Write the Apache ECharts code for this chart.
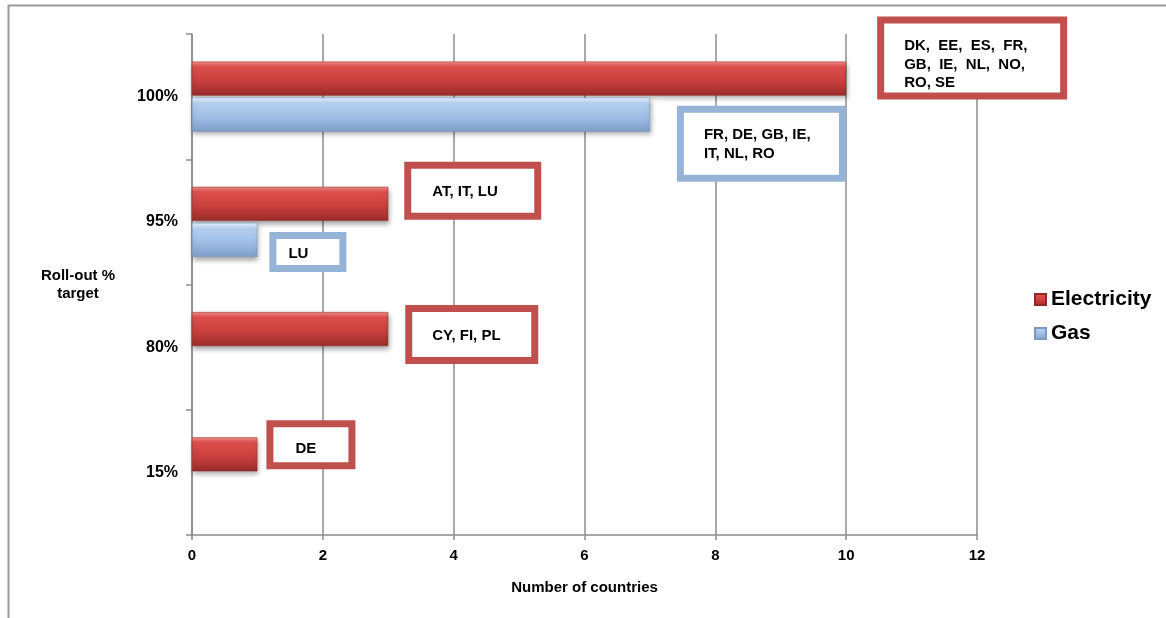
<!DOCTYPE html>
<html>
<head>
<meta charset="utf-8">
<script src="https://cdn.jsdelivr.net/npm/echarts@6/dist/echarts.min.js"></script>
<style>
html,body{margin:0;padding:0;background:#fff;}
#chart{width:1166px;height:618px;}
</style>
</head>
<body>
<div id="chart"></div>
<script>
// ---- data ----
const categories = ['15%', '80%', '95%', '100%'];
const electricity = [1, 3, 3, 10];
const gas = [null, null, 1, 7];
const electricityCountries = ['DE', 'CY, FI, PL', 'AT, IT, LU', 'DK,  EE,  ES,  FR,\nGB,  IE,  NL,  NO,\nRO, SE'];
const gasCountries = [null, null, 'LU', 'FR, DE, GB, IE,\nIT, NL, RO'];
const xTicks = [0, 2, 4, 6, 8, 10, 12];
const seriesNames = ['Electricity', 'Gas'];
const axisTitles = { y: 'Roll-out %\ntarget', x: 'Number of countries' };

// ---- annotation box layout (style only) ----
const FONT = 'Liberation Sans, Arial, sans-serif';
const elecBoxLayout = [
  { distance: 16, offset: [0, -27], padding: [12, 10, 4, 22], width: 43, lineHeight: 19 },
  { distance: 24, offset: [0, -17], padding: [14, 10, 12, 20], width: 89, lineHeight: 19 },
  { distance: 23, offset: [0, -35], padding: [13.5, 10, 11.5, 21], width: 92, lineHeight: 19 },
  { distance: 38, offset: [0, -55], padding: [13.5, 10, 0, 20], width: 146, lineHeight: 18.5 }
];
const gasBoxLayout = [
  null, null,
  { distance: 19, offset: [0, -1], padding: [5, 10, 2, 12], width: 41, lineHeight: 19 },
  { distance: 34, offset: [0, -2], padding: [12.5, 10, 11.5, 20], width: 125, lineHeight: 19 }
];

function makeData(values, texts, layouts, borderColor) {
  return values.map((v, i) => {
    const item = { value: v };
    if (texts[i] && layouts[i]) {
      const L = layouts[i];
      item.label = {
        show: true,
        position: 'right',
        distance: L.distance,
        offset: L.offset,
        formatter: texts[i],
        backgroundColor: '#fff',
        borderColor: borderColor,
        borderWidth: 7,
        padding: L.padding,
        width: L.width,
        align: 'left',
        verticalAlign: 'top',
        lineHeight: L.lineHeight,
        color: '#000',
        fontWeight: 'bold',
        fontSize: 15,
        fontFamily: FONT
      };
    }
    return item;
  });
}

const redGrad = new echarts.graphic.LinearGradient(0, 0, 0, 1, [
  { offset: 0, color: '#f58e8b' },
  { offset: 0.15, color: '#de504d' },
  { offset: 0.6, color: '#c63e3b' },
  { offset: 1, color: '#982c2a' }
]);
const blueGrad = new echarts.graphic.LinearGradient(0, 0, 0, 1, [
  { offset: 0, color: '#e4f6ff' },
  { offset: 0.18, color: '#b4cff0' },
  { offset: 0.6, color: '#9dbbe3' },
  { offset: 1, color: '#7f9ec8' }
]);

const chart = echarts.init(document.getElementById('chart'), null, { renderer: 'canvas' });
chart.setOption({
  animation: false,
  backgroundColor: '#fff',
  textStyle: { fontFamily: FONT },
  graphic: [{
    type: 'rect',
    shape: { x: 8.5, y: 5.5, width: 1300, height: 800 },
    style: { fill: 'none', stroke: '#9a9a9a', lineWidth: 2 },
    silent: true, z: -10
  }],
  grid: { left: 192, right: 189, top: 34, bottom: 83, containLabel: false },
  legend: {
    data: seriesNames,
    orient: 'vertical',
    left: 1029,
    top: 284,
    itemWidth: 11,
    itemHeight: 11,
    itemGap: 13,
    icon: 'rect',
    textStyle: { fontSize: 21, fontWeight: 'bold', color: '#000', fontFamily: FONT, padding: [0, 0, 0, 0] }
  },
  xAxis: {
    type: 'value',
    min: 0, max: 12, interval: 2,
    name: axisTitles.x,
    nameLocation: 'middle',
    nameGap: 45,
    nameTextStyle: { fontSize: 15, fontWeight: 'bold', color: '#000', fontFamily: FONT },
    axisLine: { show: true, lineStyle: { color: '#8c8c8c', width: 1.5 } },
    axisTick: { show: true, length: 5, lineStyle: { color: '#8c8c8c', width: 1.5 } },
    axisLabel: {
      fontSize: 15, fontWeight: 'bold', color: '#000', margin: 13, fontFamily: FONT,
      formatter: v => (xTicks.indexOf(v) >= 0 ? String(v) : '')
    },
    splitLine: { show: true, lineStyle: { color: '#8c8c8c', width: 1.5 } }
  },
  yAxis: {
    type: 'category',
    data: categories,
    name: axisTitles.y,
    nameLocation: 'middle',
    nameGap: 114,
    nameRotate: 0,
    nameTextStyle: { fontSize: 15, fontWeight: 'bold', color: '#000', align: 'center', lineHeight: 18, fontFamily: FONT },
    axisLine: { show: true, lineStyle: { color: '#8c8c8c', width: 1.5 } },
    axisTick: { show: true, length: 6, lineStyle: { color: '#8c8c8c', width: 1.5 } },
    axisLabel: { fontSize: 16, fontWeight: 'bold', color: '#000', margin: 14, fontFamily: FONT },
    splitLine: { show: false }
  },
  series: [
    {
      name: 'Electricity',
      type: 'bar',
      data: makeData(electricity, electricityCountries, elecBoxLayout, '#c0504d'),
      barWidth: 34,
      barGap: '6%',
      itemStyle: {
        color: redGrad,
        borderColor: '#8e2a28', borderWidth: 0.5,
        shadowColor: 'rgba(0,0,0,0.35)', shadowBlur: 5, shadowOffsetY: 3, shadowOffsetX: 1
      },
      z: 2
    },
    {
      name: 'Gas',
      type: 'bar',
      data: makeData(gas, gasCountries, gasBoxLayout, '#95b3d7'),
      barWidth: 34,
      barGap: '6%',
      itemStyle: {
        color: blueGrad,
        borderColor: '#7d98bd', borderWidth: 0.5,
        shadowColor: 'rgba(0,0,0,0.35)', shadowBlur: 5, shadowOffsetY: 3, shadowOffsetX: 1
      },
      z: 2
    }
  ]
});
</script>
</body>
</html>
